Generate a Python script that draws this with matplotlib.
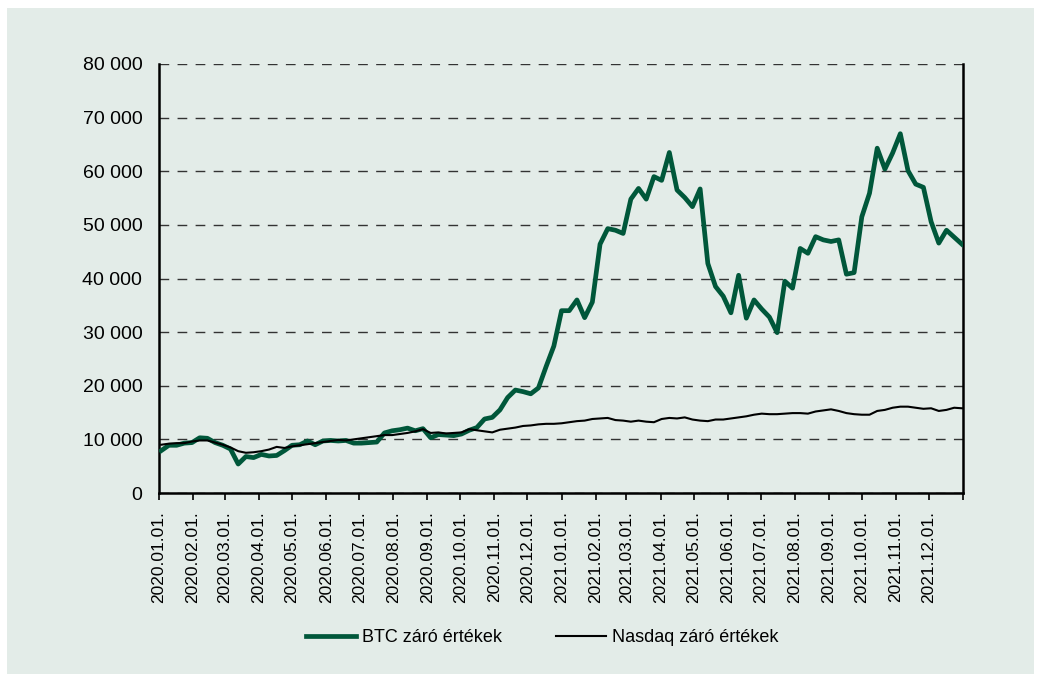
import matplotlib
matplotlib.use("Agg")
import matplotlib.pyplot as plt
import pandas as pd
from matplotlib.patches import Rectangle

plt.rcParams["font.family"] = ["Liberation Sans", "DejaVu Sans"]

# weekly closing values (Fridays), 2020-01-03 .. 2021-12-31
dates = pd.date_range("2020-01-03", periods=105, freq="7D")

btc = [
    7900, 8900, 8900, 9300, 9400, 10300, 10200, 9400, 8900, 8200,
    5400, 6800, 6600, 7200, 6900, 7000, 7900, 8900, 9000, 9700,
    9000, 9700, 9800, 9700, 9800, 9300, 9300, 9400, 9500, 11200,
    11600, 11800, 12100, 11600, 12000, 10300, 10900, 10800, 10700, 11000,
    11700, 12200, 13800, 14100, 15500, 17800, 19200, 18900, 18500, 19600,
    23600, 27400, 34000, 34000, 36000, 32700, 35600, 46400, 49300, 49000,
    48400, 54800, 56800, 54800, 59000, 58300, 63500, 56500, 55100, 53400,
    56700, 42800, 38500, 36700, 33600, 40600, 32600, 36000, 34300, 32800,
    29900, 39500, 38200, 45600, 44700, 47800, 47200, 46900, 47200, 40800,
    41100, 51500, 55900, 64300, 60400, 63400, 67000, 60100, 57600, 57000,
    50600, 46600, 49000, 47700, 46400,
]

nasdaq = [
    9000, 9200, 9300, 9300, 9600, 9800, 9800, 9400, 9000, 8500,
    7800, 7500, 7600, 7800, 8100, 8600, 8400, 8700, 8900, 9100,
    9300, 9500, 9700, 9900, 9800, 10000, 10200, 10400, 10600, 10800,
    10800, 11000, 11200, 11500, 11900, 11200, 11300, 11100, 11200, 11300,
    11900, 11700, 11500, 11300, 11800, 12000, 12200, 12500, 12600, 12800,
    12900, 12900, 13000, 13200, 13400, 13500, 13800, 13900, 14000, 13600,
    13500, 13300, 13500, 13300, 13200, 13800, 14000, 13900, 14100, 13700,
    13500, 13400, 13700, 13700, 13900, 14100, 14300, 14600, 14800, 14700,
    14700, 14800, 14900, 14900, 14800, 15200, 15400, 15600, 15300, 14900,
    14700, 14600, 14600, 15300, 15500, 15900, 16100, 16100, 15900, 15700,
    15800, 15300, 15500, 15900, 15800,
]

month_ticks = pd.date_range("2020-01-01", "2022-01-01", freq="MS")
month_labels = [d.strftime("%Y.%m.%d.") for d in month_ticks[:-1]] + [""]
y_ticks = list(range(0, 80001, 10000))

panel = "#e3ece8"
green = "#00573a"

fig = plt.figure(figsize=(10.41, 6.81), dpi=100)
fig.patch.set_facecolor("white")
# light panel behind the whole chart
fig.patches.append(Rectangle((7 / 1041, 7 / 681), 1027 / 1041, 666 / 681,
                             transform=fig.transFigure, facecolor=panel,
                             edgecolor="none", zorder=-5))

ax = fig.add_axes([159 / 1041, 188 / 681, 804 / 1041, 429 / 681])
ax.set_facecolor(panel)

ax.plot(dates, btc, color=green, lw=3.4, label="BTC záró értékek", zorder=3)
ax.plot(dates, nasdaq, color="black", lw=1.5, label="Nasdaq záró értékek", zorder=4)

ax.set_xlim(pd.Timestamp("2020-01-01"), pd.Timestamp("2022-01-01"))
ax.set_ylim(0, 80000)

ax.set_yticks(y_ticks)
ax.set_yticklabels([f"{v:,}".replace(",", " ") for v in y_ticks], fontsize=14)
ax.tick_params(axis="y", length=0, pad=12)

ax.set_xticks(month_ticks)
ax.set_xticklabels(month_labels, rotation=90, fontsize=12.5)
ax.tick_params(axis="x", length=5, width=1.2, direction="out", pad=8)

ax.yaxis.grid(True, color="#333333", lw=1.0, linestyle=(0, (7, 6)))
ax.set_axisbelow(True)

for side in ["left", "bottom", "right"]:
    ax.spines[side].set_linewidth(1.8)
    ax.spines[side].set_color("black")
ax.spines["top"].set_visible(False)

fig.legend(loc="center", bbox_to_anchor=(542 / 1041, 1 - 638 / 681), ncol=2,
           frameon=False, fontsize=13, handlelength=2.8, handletextpad=0.3,
           columnspacing=3.0)

fig.savefig("out.png", dpi=100, facecolor=fig.get_facecolor())
